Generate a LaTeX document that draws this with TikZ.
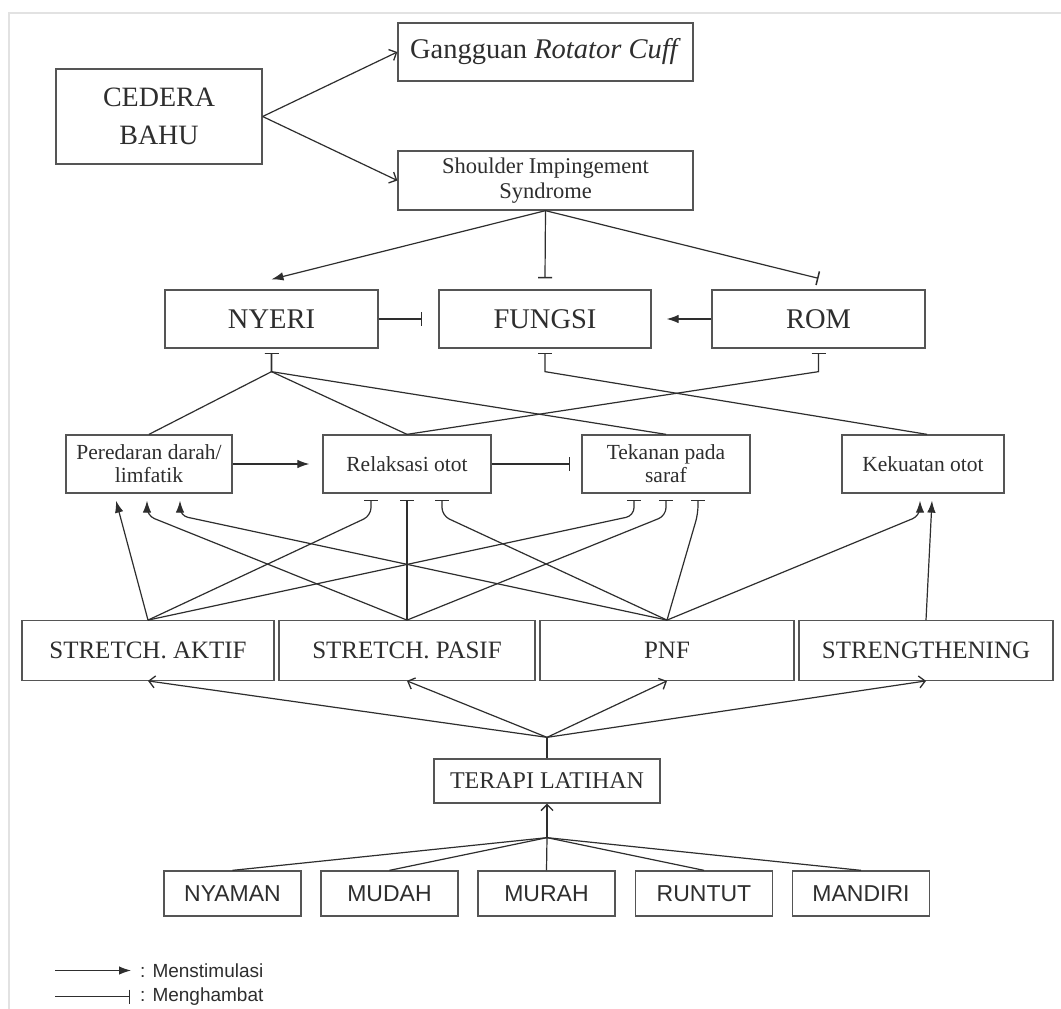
\documentclass[tikz,border=0pt]{standalone}
\usepackage{fontspec}
\setmainfont{Liberation Serif}
\newfontfamily\sansf{Liberation Sans}
\usetikzlibrary{arrows.meta}
\definecolor{ink}{HTML}{2E2E2E}
\definecolor{boxc}{HTML}{555555}
\definecolor{framec}{HTML}{E2E2E2}
\newcommand\fntA{\fontsize{28}{37.7}\selectfont}
\newcommand\fntB{\fontsize{28.5}{34}\selectfont}
\newcommand\fntC{\fontsize{22.5}{25}\selectfont}
\newcommand\fntD{\fontsize{21.5}{23}\selectfont}
\newcommand\fntE{\fontsize{25}{30}\selectfont}
\newcommand\fntF{\fontsize{24}{28}\selectfont}
\newcommand\fntG{\sansf\fontsize{23}{27}\selectfont}
\newcommand\fntH{\sansf\fontsize{19}{22}\selectfont}
\begin{document}
\begin{tikzpicture}[x=1pt,y=-1pt,
  box/.style={draw=boxc, line width=1.3pt, inner sep=0pt, align=center, text=ink},
  conn/.style={draw=ink, line width=1.2pt},
  stim/.style={conn, -{Latex[length=12pt,width=8.5pt]}},
  inh/.style={conn, -{Bar[width=14pt,line width=1.5pt]}},
  opn/.style={conn, -{Straight Barb[length=6pt,width=12pt,line width=1.3pt]}},
  bendy/.style={rounded corners=8pt}]
\useasboundingbox (0,0) rectangle (1061,1009);
\fill[white] (0,0) rectangle (1061,1009);
\draw[framec, line width=1.2pt] (9,1009) -- (9,13) -- (1061,13);

% top
\node[box, minimum width=206pt, minimum height=95pt, font=\fntA] (cedera) at (159,116.5) {CEDERA\\BAHU};
\node[box, minimum width=295pt, minimum height=58pt, font=\fntB] (gangguan) at (545.5,52) {Gangguan \textit{Rotator Cuff}};
\node[box, minimum width=295pt, minimum height=59pt, font=\fntC] (shoulder) at (545.5,180.5) {Shoulder Impingement\\Syndrome};

\node[box, minimum width=213pt, minimum height=58pt, font=\fntB] (nyeri) at (271.5,319) {NYERI};
\node[box, minimum width=212pt, minimum height=58pt, font=\fntB] (fungsi) at (545,319) {FUNGSI};
\node[box, minimum width=213pt, minimum height=58pt, font=\fntB] (rom) at (818.5,319) {ROM};

\node[box, minimum width=166pt, minimum height=58pt, font=\fntD] (per) at (149,464) {Peredaran darah/\\limfatik};
\node[box, minimum width=168pt, minimum height=58pt, font=\fntD] (rel) at (407,464) {Relaksasi otot};
\node[box, minimum width=168pt, minimum height=58pt, font=\fntD] (tek) at (666,464) {Tekanan pada\\saraf};
\node[box, minimum width=162pt, minimum height=58pt, font=\fntD] (kek) at (923,464) {Kekuatan otot};

\node[box, minimum width=252pt, minimum height=59.5pt, font=\fntE] (aktif) at (148,650.5) {STRETCH. AKTIF};
\node[box, minimum width=256pt, minimum height=59.5pt, font=\fntE] (pasif) at (407,650.5) {STRETCH. PASIF};
\node[box, minimum width=254pt, minimum height=59.5pt, font=\fntE] (pnf) at (667,650.5) {PNF};
\node[box, minimum width=254pt, minimum height=59.5pt, font=\fntE] (streng) at (926,650.5) {STRENGTHENING};

\node[box, minimum width=226pt, minimum height=44pt, font=\fntF] (terapi) at (547,781) {TERAPI LATIHAN};

\node[box, minimum width=137pt, minimum height=45pt, font=\fntG] (nyaman) at (232.5,893.5) {NYAMAN};
\node[box, minimum width=137pt, minimum height=45pt, font=\fntG] (mudah) at (389.5,893.5) {MUDAH};
\node[box, minimum width=137pt, minimum height=45pt, font=\fntG] (murah) at (546.5,893.5) {MURAH};
\node[box, minimum width=137pt, minimum height=45pt, font=\fntG] (runtut) at (704,893.5) {RUNTUT};
\node[box, minimum width=137pt, minimum height=45pt, font=\fntG] (mandiri) at (861,893.5) {MANDIRI};

% top connectors
\draw[opn] (cedera.east) -- (gangguan.west);
\draw[opn] (cedera.east) -- (shoulder.west);
\draw[stim] (shoulder.south) -- ([yshift=10pt]nyeri.north);
\draw[inh] (shoulder.south) -- ([yshift=11pt]fungsi.north);
\draw[inh] (shoulder.south) -- ([yshift=11pt]rom.north);
\draw[inh] (nyeri.east) -- ([xshift=-16pt]fungsi.west);
\draw[stim] (rom.west) -- ([xshift=15pt]fungsi.east);

% middle to upper
\coordinate (nj) at ([yshift=-23pt]nyeri.south);
\coordinate (fj) at ([yshift=-23pt]fungsi.south);
\coordinate (rj) at ([yshift=-23pt]rom.south);
\draw[inh] (per.north) -- (nj) -- ([yshift=-4pt]nyeri.south);
\draw[inh] (rel.north) -- (nj) -- ([yshift=-4pt]nyeri.south);
\draw[inh] (tek.north) -- (nj) -- ([yshift=-4pt]nyeri.south);
\draw[inh] (rel.north) -- (rj) -- ([yshift=-4pt]rom.south);
\draw[inh] ([xshift=4pt]kek.north) -- (fj) -- ([yshift=-4pt]fungsi.south);

\draw[stim] (per.east) -- ([xshift=-13pt]rel.west);
\draw[inh] (rel.east) -- ([xshift=-11pt]tek.west);

% lower to middle
\draw[stim] (aktif.north) -- ([xshift=-33pt,yshift=-7pt]per.south);
\draw[inh,bendy] (aktif.north) -- ([xshift=-36pt,yshift=-22pt]rel.south) -- ([xshift=-36pt,yshift=-6pt]rel.south);
\draw[inh,bendy] (aktif.north) -- ([xshift=-32pt,yshift=-22pt]tek.south) -- ([xshift=-32pt,yshift=-6pt]tek.south);

\draw[stim,bendy] (pasif.north) -- ([xshift=-2pt,yshift=-22pt]per.south) -- ([xshift=-2pt,yshift=-7pt]per.south);
\draw[inh] (pasif.north) -- ([yshift=-6pt]rel.south);
\draw[inh,bendy] (pasif.north) -- ([yshift=-22pt]tek.south) -- ([yshift=-6pt]tek.south);

\draw[stim,bendy] (pnf.north) -- ([xshift=31pt,yshift=-22pt]per.south) -- ([xshift=31pt,yshift=-7pt]per.south);
\draw[inh,bendy] (pnf.north) -- ([xshift=35pt,yshift=-22pt]rel.south) -- ([xshift=35pt,yshift=-6pt]rel.south);
\draw[inh,bendy] (pnf.north) -- ([xshift=32pt,yshift=-20pt]tek.south) -- ([xshift=32pt,yshift=-6pt]tek.south);
\draw[stim,bendy] (pnf.north) -- ([xshift=-3pt,yshift=-22pt]kek.south) -- ([xshift=-3pt,yshift=-7pt]kek.south);

\draw[stim] (streng.north) -- ([xshift=9pt,yshift=-7pt]kek.south);

% terapi
\coordinate (tj) at ([yshift=21pt]terapi.north);
\coordinate (bj) at ([yshift=-34pt]terapi.south);
\draw[conn] (terapi.north) -- (tj);
\draw[opn] (tj) -- (aktif.south);
\draw[opn] (tj) -- (pasif.south);
\draw[opn] (tj) -- (pnf.south);
\draw[opn] (tj) -- (streng.south);
\draw[opn] (bj) -- (terapi.south);
\draw[conn] (nyaman.north) -- (bj);
\draw[conn] (mudah.north) -- (bj);
\draw[conn] (murah.north) -- (bj);
\draw[conn] (runtut.north) -- (bj);
\draw[conn] (mandiri.north) -- (bj);

% legend
\node[anchor=west, inner sep=0pt, text=ink, font=\fntH] (leg1) at (140,970.5) {: Menstimulasi};
\node[anchor=west, inner sep=0pt, text=ink, font=\fntH] (leg2) at (140,996.5) {: Menghambat};
\coordinate (la) at (55,970.5);
\coordinate (lb) at (55,996.5);
\draw[stim] (la) -- ([xshift=-9pt]leg1.west);
\draw[inh] (lb) -- ([xshift=-10pt]leg2.west);
\end{tikzpicture}
\end{document}
